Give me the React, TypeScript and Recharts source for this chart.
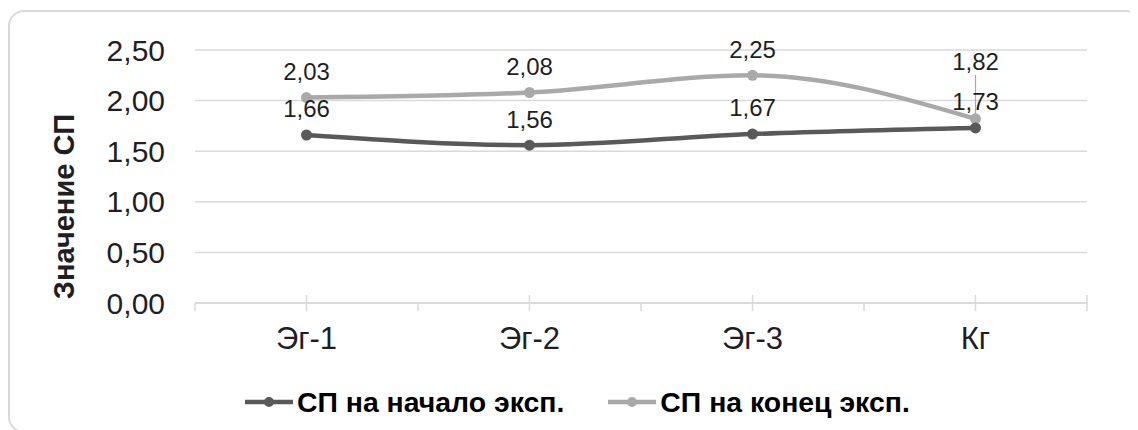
import React from 'react';
import { LineChart, Line, XAxis, YAxis, CartesianGrid, Legend, LabelList } from 'recharts';

const categories = ['Эг-1', 'Эг-2', 'Эг-3', 'Кг'];
const startValues = [1.66, 1.56, 1.67, 1.73];
const endValues = [2.03, 2.08, 2.25, 1.82];
const yTicks = [0, 0.5, 1, 1.5, 2, 2.5];
const seriesNames = ['СП на начало эксп.', 'СП на конец эксп.'];
const yAxisTitle = 'Значение СП';

const DARK = '#595959';
const LIGHT = '#a9a9a9';
const GRID = '#d9d9d9';
const TEXT = '#1f1f1f';
const FONT = '"Liberation Sans", Arial, sans-serif';

const data = categories.map((name, i) => ({
  name,
  pos: i + 0.5,
  start: startValues[i],
  end: endValues[i],
}));

// boundary ticks at integers, category ticks at the band centres
const xTicks = categories.flatMap((_, i) => [i, i + 0.5]).concat(categories.length);

const fmt = (v: number) => v.toFixed(2).replace('.', ',');

const XTick = (props: any) => {
  const { x, y, payload } = props;
  const v = payload.value as number;
  const isCenter = v % 1 !== 0;
  const isLast = v === categories.length;
  return (
    <g>
      <line x1={x} x2={x} y1={isCenter || isLast ? y - 8 : y} y2={y + 8} stroke={GRID} strokeWidth={1.5} />
      {isCenter && (
        <text x={x} y={y + 35} dy="0.35em" textAnchor="middle" fontSize={31} fill={TEXT} fontFamily={FONT}>
          {categories[Math.floor(v)]}
        </text>
      )}
    </g>
  );
};

const makeLabel = (liftLast: boolean) => (props: any) => {
  const vb = props.viewBox || {};
  const x = props.x ?? vb.x;
  const y = props.y ?? vb.y;
  const lifted = liftLast && props.index === categories.length - 1;
  const ty = lifted ? y - 57 : y - 26;
  return (
    <g>
      {lifted && <line x1={x} x2={x} y1={y - 44} y2={y - 3} stroke={LIGHT} strokeWidth={1.2} />}
      <text x={x} y={ty} dy="0.35em" textAnchor="middle" fontSize={24} fill={TEXT} fontFamily={FONT}>
        {fmt(props.value)}
      </text>
    </g>
  );
};

const YTitle = (props: any) => {
  const vb = props.viewBox;
  const cx = vb.x - 21;
  const cy = vb.y + vb.height / 2 + 30;
  return (
    <text
      transform={`translate(${cx},${cy}) rotate(-90)`}
      dy="0.36em"
      textAnchor="middle"
      fontSize={29}
      fontWeight="bold"
      fill={TEXT}
      fontFamily={FONT}
    >
      {yAxisTitle}
    </text>
  );
};

const legendColors = [DARK, LIGHT];

const LegendContent = () => (
  <div style={{ display: 'flex', alignItems: 'center', height: 40, paddingLeft: 235, gap: 44 }}>
    {seriesNames.map((n, i) => (
      <div key={n} style={{ display: 'flex', alignItems: 'center' }}>
        <svg width={48} height={12}>
          <line x1={0} x2={48} y1={6} y2={6} stroke={legendColors[i]} strokeWidth={4.5} />
          <circle cx={24} cy={6} r={5} fill={legendColors[i]} />
        </svg>
        <span style={{ marginLeft: 4, fontSize: 28.4, fontWeight: 'bold', color: '#000', fontFamily: FONT }}>{n}</span>
      </div>
    ))}
  </div>
);

export default function App() {
  const W = 1126;
  return (
    <div
      style={{
        position: 'relative',
        marginTop: 2,
        width: 1134,
        height: 423,
        border: `2px solid ${GRID}`,
        borderRadius: 16,
        boxSizing: 'border-box',
        background: '#fff',
      }}
    >
      <style>{'body{overflow:hidden}'}</style>
      <LineChart
        width={W}
        height={420}
        data={data}
        margin={{ top: 38, right: 49, bottom: 10, left: 75 }}
        style={{ fontFamily: FONT }}
      >
        <CartesianGrid vertical={false} stroke={GRID} strokeWidth={1.5} />
        <XAxis
          dataKey="pos"
          type="number"
          domain={[0, categories.length]}
          ticks={xTicks}
          interval={0}
          height={79}
          tickLine={false}
          tickSize={0}
          tickMargin={0}
          axisLine={{ stroke: GRID, strokeWidth: 1.5 }}
          tick={(p: any) => <XTick {...p} />}
        />
        <YAxis
          width={110}
          domain={[0, 2.5]}
          ticks={yTicks}
          interval={0}
          tickLine={false}
          axisLine={false}
          tickSize={0}
          tickMargin={30}
          tickFormatter={fmt}
          tick={{ fontSize: 30, fill: TEXT, fontFamily: FONT }}
          label={{ content: (p: any) => <YTitle {...p} /> }}
        />
        <Legend
          verticalAlign="bottom"
          height={40}
          wrapperStyle={{ left: 0, width: W }}
          content={() => <LegendContent />}
        />
        <Line
          type="monotone"
          dataKey="end"
          name={seriesNames[1]}
          stroke={LIGHT}
          strokeWidth={4.5}
          dot={{ r: 5.5, fill: LIGHT, stroke: LIGHT, strokeWidth: 0 }}
          isAnimationActive={false}
        >
          <LabelList dataKey="end" content={makeLabel(true)} />
        </Line>
        <Line
          type="monotone"
          dataKey="start"
          name={seriesNames[0]}
          stroke={DARK}
          strokeWidth={4.5}
          dot={{ r: 5.5, fill: DARK, stroke: DARK, strokeWidth: 0 }}
          isAnimationActive={false}
        >
          <LabelList dataKey="start" content={makeLabel(false)} />
        </Line>
      </LineChart>
    </div>
  );
}
